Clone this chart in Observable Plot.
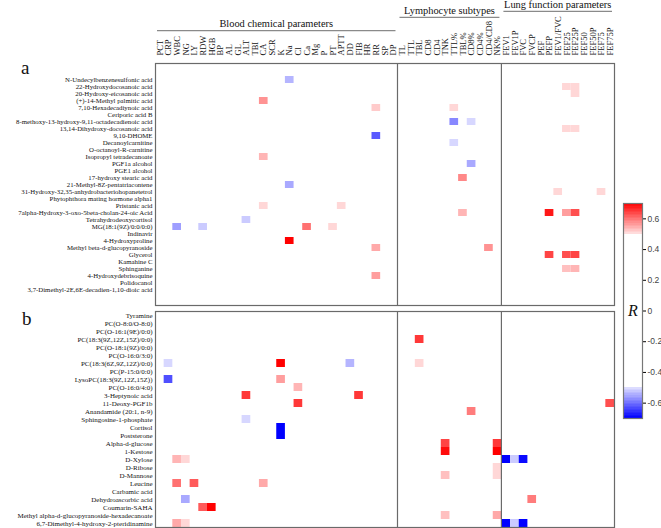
<!DOCTYPE html>
<html><head><meta charset="utf-8">
<script src="https://cdn.jsdelivr.net/npm/d3@7"></script>
<script src="https://cdn.jsdelivr.net/npm/@observablehq/plot@0.6"></script>
<style>
body{margin:0;background:#fff;}
#wrap{position:relative;width:661px;height:528px;overflow:hidden;font-family:"Liberation Serif",serif;}
.pos{position:absolute;}
.pa text,.pb text{font-family:"Liberation Serif",serif;fill:#111;}
.pa g[aria-label^="x-axis"] text{font-size:8.5px;}
.pa g[aria-label^="y-axis"] text{font-size:6.8px;}
.pb g[aria-label^="y-axis"] text{font-size:7px;}
.leg g[aria-label^="y-axis"] text{font-family:"Liberation Sans",Arial,sans-serif;font-size:8.5px;fill:#444;}
.plab{position:absolute;font-family:"Liberation Serif",serif;font-size:19px;line-height:1;color:#111;}
</style></head><body><div id="wrap"></div><script>
// ---- data ----
const columns = ["PCT","CRP","WBC","NG","LY","RDW","HGB","BP","AL","GL","ALT","TBI","CA","SCR","K","Na","Cl","Ca","Mg","P","PT","APTT","DD","FIB","HR","RR","SP","DP",
  "TL","TTL","TBL","CD8","CD4","TNK","TTL%","TBL%","CD8%","CD4%","CD4/CD8","NK%",
  "FEV1","FEV1P","FVC","FVCP","PEF","PEFP","FEV1/FVC","FEF25","FEF25P","FEF50","FEF50P","FEF75","FEF75P"];
const groupNames = ["Blood chemical parameters","Lymphocyte subtypes","Lung function parameters"];
const groupFirst = ["PCT","TL","FEV1"];
const groupLast = ["DP","NK%","FEF75P"];
const rowsA = ["N-Undecylbenzenesulfonic acid","22-Hydroxydocosanoic acid","20-Hydroxy-eicosanoic acid","(+)-14-Methyl palmitic acid","7,10-Hexadecadiynoic acid","Ceriporic acid B","8-methoxy-13-hydroxy-9,11-octadecadienoic acid","13,14-Dihydroxy-docosanoic acid","9,10-DHOME","Decanoylcarnitine","O-octanoyl-R-carnitine","Isopropyl tetradecanoate","PGF1a alcohol","PGE1 alcohol","17-hydroxy stearic acid","21-Methyl-8Z-pentatriacontene","31-Hydroxy-32,35-anhydrobacteriohopanetetrol","Phytophthora mating hormone alpha1","Pristanic acid","7alpha-Hydroxy-3-oxo-5beta-cholan-24-oic Acid","Tetrahydrodeoxycortisol","MG(18:1(9Z)/0:0/0:0)","Indinavir","4-Hydroxyproline","Methyl beta-d-glucopyranoside","Glycerol","Kamahine C","Sphinganine","4-Hydroxydebrisoquine","Polidocanol","3,7-Dimethyl-2E,6E-decadien-1,10-dioic acid"];
const rowsB = ["Tyramine","PC(O-8:0/O-8:0)","PC(O-16:1(9E)/0:0)","PC(18:3(9Z,12Z,15Z)/0:0)","PC(O-18:1(9Z)/0:0)","PC(O-16:0/3:0)","PC(18:3(6Z,9Z,12Z)/0:0)","PC(P-15:0/0:0)","LysoPC(18:3(9Z,12Z,15Z))","PC(O-16:0/4:0)","3-Heptynoic acid","11-Deoxy-PGF1b","Anandamide (20:1, n-9)","Sphingosine-1-phosphate","Cortisol","Poststerone","Alpha-d-glucose","1-Kestose","D-Xylose","D-Ribose","D-Mannose","Leucine","Carbamic acid","Dehydroascorbic acid","Coumarin-SAHA","Methyl alpha-d-glucopyranoside-hexadecanoate","6,7-Dimethyl-4-hydroxy-2-pteridinamine"];
// [row index, column, R]
const cellsA = [
  [0,"Na",-0.54],[1,"FEF25",0.51],[1,"FEF25P",0.51],[2,"FEF25P",0.51],[3,"CA",0.57],
  [4,"RR",0.52],[4,"TTL%",0.51],[6,"TTL%",-0.58],[6,"CD8%",-0.51],[7,"FEF25",0.51],[7,"FEF25P",0.51],
  [8,"RR",-0.62],[9,"TTL%",-0.51],[11,"CA",0.54],[12,"CD8%",-0.55],[14,"TBL%",0.58],[15,"Na",-0.55],
  [16,"FEV1/FVC",0.51],[16,"FEF75",0.51],[18,"CA",0.51],[18,"APTT",0.51],
  [19,"TBL%",0.54],[19,"PEFP",0.68],[19,"FEF25",0.56],[19,"FEF25P",0.63],
  [20,"ALT",-0.52],[21,"WBC",-0.56],[21,"RDW",-0.52],[21,"Ca",0.6],[21,"PT",0.51],
  [23,"Na",0.7],[24,"RR",0.55],[24,"CD4/CD8",0.57],
  [25,"PEFP",0.64],[25,"FEF25",0.63],[25,"FEF25P",0.64],[27,"FEF25",0.53],[27,"FEF25P",0.54],[28,"RR",0.56]
];
const cellsB = [
  [3,"TBL",0.65],[6,"CRP",-0.51],[6,"K",0.7],[6,"DD",-0.54],[6,"TBL",0.51],
  [8,"CRP",-0.63],[8,"K",0.56],[9,"Cl",0.54],[10,"ALT",0.65],[10,"FIB",0.65],
  [11,"Cl",0.65],[11,"FEF75P",0.63],[12,"CD8%",0.59],[13,"ALT",-0.51],[14,"K",-0.7],[15,"K",-0.7],
  [16,"TNK",0.64],[16,"NK%",0.65],[17,"TNK",0.69],[17,"NK%",0.7],
  [18,"WBC",0.54],[18,"NG",0.51],[18,"FEV1",-0.7],[18,"FEV1P",-0.52],[18,"FVC",-0.69],
  [19,"NK%",0.51],[20,"TNK",0.53],[20,"NK%",0.51],
  [21,"WBC",0.6],[21,"LY",0.62],[21,"CA",0.55],[23,"NG",-0.55],[23,"FVCP",0.59],
  [24,"RDW",0.62],[24,"HGB",0.7],[25,"TNK",0.53],[25,"NK%",0.55],
  [26,"WBC",0.55],[26,"NG",0.51],[26,"FEV1",-0.7],[26,"FEV1P",-0.52],[26,"FVC",-0.7]
];
const legendTicks = [0.6,0.4,0.2,0,-0.2,-0.4,-0.6];
const legendDomain = [-0.7,0.7];

// ---- chart ----
const dataA = cellsA.map(([i,c,r]) => ({row: rowsA[i], col: c, r}));
const dataB = cellsB.map(([i,c,r]) => ({row: rowsB[i], col: c, r}));
const colorOpts = {type:"linear", domain:[-0.7,-0.5,-0.4999,0.4999,0.5,0.7],
  range:["#0000ff","#e2e2ff","#ffffff","#ffffff","#ffe2e2","#ff0000"], interpolate:"rgb", clamp:true};
const frameColor = "#6a6a6a";

function separators(index, scales, values, dims) {
  const x = scales.x;
  const g = d3.create("svg:g");
  for (const c of groupFirst.slice(1)) {
    const px = x(c);
    g.append("line").attr("x1",px).attr("x2",px)
      .attr("y1",dims.marginTop).attr("y2",dims.height-dims.marginBottom)
      .attr("stroke",frameColor).attr("stroke-width",1.2);
  }
  return g.node();
}
const headerLineY = [30.7, 17.3, 11.3];
function header(index, scales, values, dims) {
  const x = scales.x;
  const bw = x(columns[1]) - x(columns[0]);
  const g = d3.create("svg:g");
  groupNames.forEach((name,i) => {
    const x0 = x(groupFirst[i]) + 2, x1 = x(groupLast[i]) + bw - 2;
    const yl = headerLineY[i];
    g.append("line").attr("x1",x0).attr("x2",x1).attr("y1",yl).attr("y2",yl)
      .attr("stroke","#8a8a8a").attr("stroke-width",1.3);
    g.append("text").attr("x",(x0+x1)/2).attr("y",yl-3.5).attr("text-anchor","middle")
      .attr("font-size",10.4).attr("fill","#111").text(name);
  });
  return g.node();
}
const common = {width:661, marginLeft:155, marginRight:47, color:colorOpts,
  style:{background:"transparent", fontFamily:"Liberation Serif, serif", color:"#111", overflow:"visible"}};

const pa = Plot.plot({...common, height:306, marginTop:63, marginBottom:1,
  x:{domain:columns, padding:0, axis:"top", tickRotate:-90, tickSize:0, tickPadding:8, label:null},
  y:{domain:rowsA, padding:0, tickSize:0, tickPadding:3, label:null},
  marks:[
    Plot.cell(dataA, {x:"col", y:"row", fill:"r", inset:0}),
    separators,
    Plot.frame({stroke:frameColor, strokeWidth:1.2}),
    header
  ]});
pa.classList.add("pa");

const pb = Plot.plot({...common, height:223, marginTop:6, marginBottom:1,
  x:{domain:columns, padding:0, axis:null},
  y:{domain:rowsB, padding:0, tickSize:0, tickPadding:3, label:null},
  marks:[
    Plot.cell(dataB, {x:"col", y:"row", fill:"r", inset:0}),
    separators,
    Plot.frame({stroke:frameColor, strokeWidth:1.2})
  ]});
pb.classList.add("pb");

const stops = d3.range(legendDomain[0], legendDomain[1]-1e-9, 0.01);
const leg = Plot.plot({width:61, height:231, marginLeft:23, marginRight:19, marginTop:8, marginBottom:8,
  color:colorOpts,
  style:{background:"transparent", overflow:"visible"},
  x:{domain:[0,1], axis:null},
  y:{domain:legendDomain, axis:"right", ticks:legendTicks, tickFormat:d => String(d), tickSize:3, tickPadding:2, label:null},
  marks:[
    Plot.rect(stops, {x1:0, x2:1, y1:d=>d, y2:d=>d+0.0101, fill:d=>d+0.005, shapeRendering:"crispEdges"}),
    Plot.frame({stroke:"#777", strokeWidth:1.2}),
    Plot.text([0], {x:()=>0.5, y:d=>d, text:()=>"R", fontSize:16, fontStyle:"italic", fontFamily:"Liberation Serif, serif", fill:"#111"})
  ]});
leg.classList.add("leg");

const wrap = document.getElementById("wrap");
function place(el, left, top){ el.classList.add("pos"); el.style.left=left+"px"; el.style.top=top+"px"; wrap.appendChild(el); }
place(pa, 0, 0);
place(pb, 0, 305);
place(leg, 600, 195);
for (const [t,l,tp] of [["a",21,58],["b",22,309]]) {
  const d = document.createElement("div"); d.className="plab"; d.textContent=t;
  d.style.left=l+"px"; d.style.top=tp+"px"; wrap.appendChild(d);
}
</script></body></html>
